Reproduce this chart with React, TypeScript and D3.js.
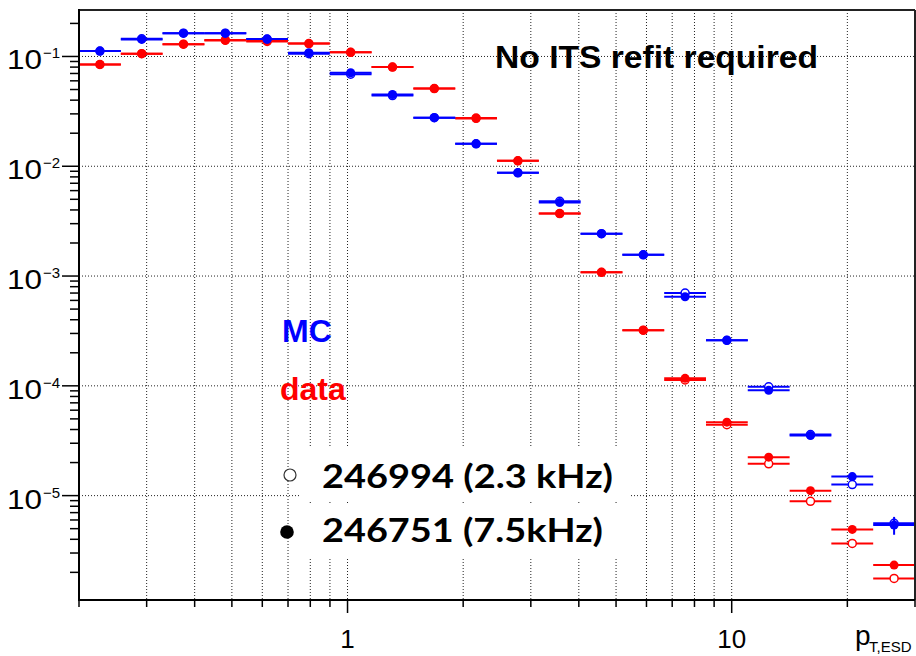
import React from "react";
import * as d3 from "d3";

// Bin edges (log-uniform, p_T in GeV/c)
const binEdges = [0.2, 0.257, 0.330, 0.424, 0.545, 0.700, 0.899, 1.155, 1.484, 1.907, 2.449, 3.147, 4.043, 5.194, 6.672, 8.572, 11.01, 14.15, 18.17, 23.35, 30.0];

// MC (blue), run 246751 (filled) and 246994 (open)
const mcFilled = [0.112, 0.143, 0.163, 0.163, 0.144, 0.108, 0.071, 0.045, 0.0277, 0.0160, 0.00872, 0.00467, 0.00243, 0.00156, 0.000647, 0.00026, 9.1e-5, 3.53e-5, 1.49e-5, 5.4e-6];
const mcOpen = [0.112, 0.145, 0.163, 0.163, 0.144, 0.106, 0.069, 0.044, 0.0277, 0.0160, 0.00872, 0.0048, 0.00243, 0.00156, 0.00070, 0.00026, 9.8e-5, 3.6e-5, 1.26e-5, 5.6e-6];
const mcFilledErr = [0, 0, 0, 0, 0, 0, 0, 0, 0, 0, 0, 0, 0, 0, 0, 0, 0, 0, 0, 1.0e-6];

// data (red), run 246751 (filled) and 246994 (open)
const dataFilled = [0.0845, 0.106, 0.1295, 0.140, 0.139, 0.131, 0.109, 0.080, 0.051, 0.0272, 0.0112, 0.00371, 0.00108, 0.000321, 0.000117, 4.67e-5, 2.24e-5, 1.11e-5, 4.92e-6, 2.33e-6];
const dataOpen = [0.0845, 0.106, 0.1295, 0.141, 0.137, 0.131, 0.109, 0.080, 0.051, 0.0275, 0.0112, 0.00371, 0.00108, 0.000321, 0.000113, 4.42e-5, 1.95e-5, 8.87e-6, 3.67e-6, 1.76e-6];

// axis tick values
const xTicks = [0.2, 0.3, 0.4, 0.5, 0.6, 0.7, 0.8, 0.9, 1, 2, 3, 4, 5, 6, 7, 8, 9, 10, 20, 30];
const xLabels = [1, 10];
const yDecadeExps = [-1, -2, -3, -4, -5];
const legendEntries = ["246994 (2.3 kHz)", "246751 (7.5kHz)"];

const W = 916, H = 656;
const X0 = 79, X1 = 915, Y0 = 10, Y1 = 600;
const SANS = "'Liberation Sans', Arial, Helvetica, sans-serif";

export default function App() {
  const x = d3.scaleLog().domain([0.2, 30]).range([X0, X1]);
  const y = d3.scaleLog().domain([1.12e-6, 0.265]).range([Y1, Y0]);

  const yMinor: number[] = [];
  for (let e = -6; e <= -1; e++) {
    for (let m = 1; m <= 9; m++) {
      const v = m * Math.pow(10, e);
      if (v >= 1.12e-6 && v <= 0.265) yMinor.push(v);
    }
  }

  const series = [
    { vals: dataOpen, color: "#ff0000", open: true, err: null as number[] | null },
    { vals: dataFilled, color: "#ff0000", open: false, err: null as number[] | null },
    { vals: mcOpen, color: "#0000ff", open: true, err: null as number[] | null },
    { vals: mcFilled, color: "#0000ff", open: false, err: mcFilledErr },
  ];

  return (
    <svg width={W} height={H} style={{ position: "absolute", left: 0, top: 0, background: "#fff" }}>
      <rect x={0} y={0} width={W} height={H} fill="#fff" />
      {/* grid */}
      <g stroke="#222" strokeWidth={1} strokeDasharray="1,2">
        {xTicks.filter((t) => t > 0.2 && t < 30).map((t) => (
          <line key={"gx" + t} x1={x(t)} x2={x(t)} y1={Y0} y2={Y1} />
        ))}
        {yDecadeExps.map((e) => (
          <line key={"gy" + e} x1={X0} x2={X1} y1={y(Math.pow(10, e))} y2={y(Math.pow(10, e))} />
        ))}
      </g>
      {/* legend text boxes (white background) */}
      <rect x={300} y={447} width={330} height={53} fill="#fff" />
      <rect x={300} y={505} width={330} height={53} fill="#fff" />

      {/* data series */}
      {series.map((s, si) => (
        <g key={"s" + si}>
          {s.vals.map((v, i) => {
            const lo = binEdges[i], hi = binEdges[i + 1];
            const c = Math.sqrt(lo * hi);
            const cx = x(c), cy = y(v);
            const e = s.err ? s.err[i] : 0;
            return (
              <g key={i}>
                <line x1={x(lo)} x2={x(hi)} y1={cy} y2={cy} stroke={s.color} strokeWidth={2} />
                {e > 0 && (
                  <line x1={cx} x2={cx} y1={y(v + e)} y2={y(v - e)} stroke={s.color} strokeWidth={2} />
                )}
                {s.open ? (
                  <circle cx={cx} cy={cy} r={4} fill="#fff" stroke={s.color} strokeWidth={1.5} />
                ) : (
                  <circle cx={cx} cy={cy} r={4.5} fill={s.color} />
                )}
              </g>
            );
          })}
        </g>
      ))}

      {/* frame */}
      <line x1={X0} x2={X1} y1={Y0} y2={Y0} stroke="#222" strokeWidth={2} />
      <line x1={X1} x2={X1} y1={Y0} y2={Y1} stroke="#222" strokeWidth={2} />
      <line x1={X0} x2={X0} y1={Y0 - 1} y2={Y1 + 1} stroke="#000" strokeWidth={2} />
      <line x1={X0 - 1} x2={X1} y1={Y1} y2={Y1} stroke="#000" strokeWidth={2} />

      {/* x ticks */}
      {xTicks.map((t) => {
        const major = t === 1 || t === 10;
        return <line key={"xt" + t} x1={x(t)} x2={x(t)} y1={Y1} y2={Y1 + (major ? 13 : 7)} stroke="#000" strokeWidth={1.5} />;
      })}
      {xLabels.map((t) => (
        <text key={"xl" + t} x={x(t)} y={648} textAnchor="middle" fontFamily={SANS} fontSize={26} fill="#000">
          {t}
        </text>
      ))}
      {/* y ticks */}
      {yMinor.map((v, i) => {
        const major = Math.abs(Math.log10(v) - Math.round(Math.log10(v))) < 1e-9;
        return <line key={"yt" + i} x1={X0 - (major ? 17 : 9)} x2={X0} y1={y(v)} y2={y(v)} stroke="#000" strokeWidth={1.5} />;
      })}
      {yDecadeExps.map((e) => {
        const yy = y(Math.pow(10, e));
        return (
          <g key={"yl" + e} fontFamily={SANS} fill="#000">
            <text x={7} y={yy + 13} fontSize={28} textLength={35} lengthAdjust="spacingAndGlyphs">10</text>
            <text x={43} y={yy + 2} fontSize={15}>{"\u2212" + Math.abs(e)}</text>
          </g>
        );
      })}
      {/* x axis title */}
      <text x={855} y={645} fontFamily={SANS} fontSize={28} fill="#000">p</text>
      <text x={869} y={652} fontFamily={SANS} fontSize={15} fill="#000">T,ESD</text>

      {/* annotations */}
      <text x={495} y={68} fontFamily={SANS} fontWeight="bold" fontSize={32} textLength={323} lengthAdjust="spacingAndGlyphs" fill="#000">
        No ITS refit required
      </text>
      <text x={282} y={342} fontFamily={SANS} fontWeight="bold" fontSize={32} fill="#0000ff">MC</text>
      <text x={280} y={400} fontFamily={SANS} fontWeight="bold" fontSize={32} fill="#ff0000">data</text>

      {/* run legend */}
      <circle cx={290} cy={475} r={6} fill="#fff" stroke="#333" strokeWidth={1.2} />
      <circle cx={287} cy={532} r={6.8} fill="#000" />
      <text x={322} y={488} fontFamily="Lato, 'Open Sans', sans-serif" fontWeight="bold" fontSize={33} textLength={291} lengthAdjust="spacingAndGlyphs" fill="#000">
        {legendEntries[0]}
      </text>
      <text x={322} y={542} fontFamily="Lato, 'Open Sans', sans-serif" fontWeight="bold" fontSize={33} textLength={281} lengthAdjust="spacingAndGlyphs" fill="#000">
        {legendEntries[1]}
      </text>
    </svg>
  );
}
